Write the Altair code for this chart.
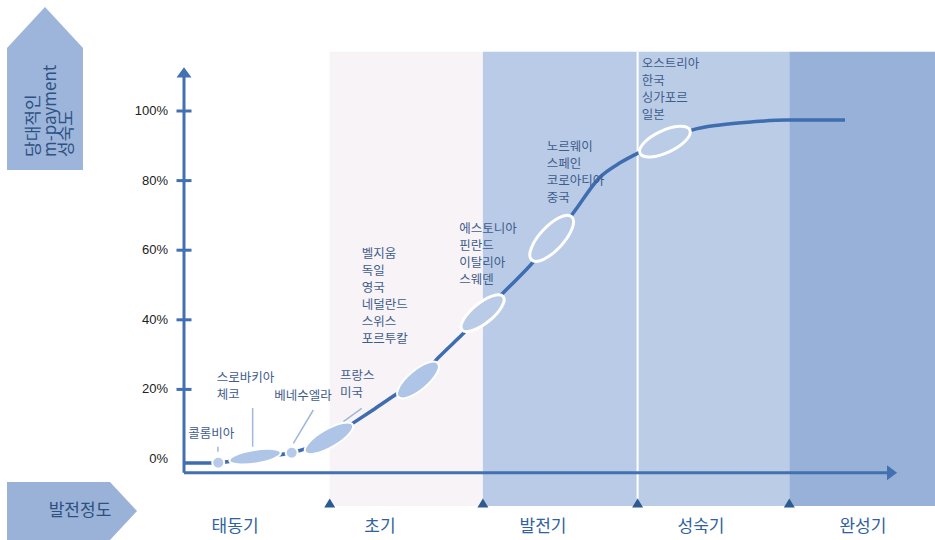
import altair as alt
import pandas as pd

# ---------------- data ----------------
# development axis: 0 = origin, stage borders near 1,2,3,4 ; y = maturity %
curve_x = [0.0, 0.173, 0.226, 0.473, 0.717, 0.972, 1.125, 1.258, 1.405, 1.558, 1.691,
           1.849, 1.991, 2.124, 2.337, 2.448, 2.581, 2.77, 2.903, 3.023, 3.202, 3.38,
           3.569, 3.788, 4.013, 4.401]
curve_y = [-1.15, -1.15, -1.06, 0.57, 1.81, 6.03, 10.3, 14.1, 18.4, 22.7, 29.0,
           35.6, 41.7, 47.7, 57.2, 63.4, 70.1, 81.0, 85.1, 87.9, 91.2, 94.5,
           96.0, 96.9, 97.4, 97.4]

stage_names = ["태동기", "초기", "발전기", "성숙기", "완성기"]
stage_label_x = [0.34, 1.305, 2.39, 3.442, 4.52]
stage_bounds = [0.97, 1.99, 3.02, 4.03]
band_start = [0.97, 1.99, 3.02, 4.03]
band_end = [1.99, 3.02, 4.03, 5.0]
band_colors = ["#f8f3f6", "#b9cbe6", "#bbcce7", "#98b1d8"]

y_ticks = [0, 20, 40, 60, 80, 100]
y_tick_labels = ["0%", "20%", "40%", "60%", "80%", "100%"]

# country groups (ellipses)
ell_x = [0.228, 0.473, 0.717, 0.965, 1.558, 1.988, 2.448, 3.202]
ell_y = [-1.06, 0.66, 1.8, 5.95, 22.7, 41.9, 63.4, 91.2]
ell_len = [12, 52, 12, 55, 52, 53, 59, 55]
ell_ratio = [1.0, 0.26, 1.0, 0.33, 0.38, 0.38, 0.40, 0.40]
ell_angle = [0, 351, 0, 330, 320, 321, 313, 335]
ell_fill = ["#b7cae9", "#afc5e8", "#b7cae9", "#afc5e8", "#afc5e8", "#b9cbe6", "#b9cbe6", "#bbcce7"]
ell_sw = [2, 2, 2, 2, 2, 3, 3, 3]

label_text = ["콜롬비아", "스로바키아\n체코", "베네수엘라", "프랑스\n미국",
              "벨지움\n독일\n영국\n네덜란드\n스위스\n포르투칼",
              "에스토니아\n 핀란드\n이탈리아\n스웨덴",
              "노르웨이\n스페인\n코로아티아\n중국",
              "오스트리아\n한국\n싱가포르\n일본"]
label_x = [0.029, 0.218, 0.601, 1.039, 1.183, 1.833, 2.415, 3.047]
label_y = [8.9, 24.9, 19.9, 25.7, 60.6, 67.8, 91.4, 115.2]

lead_x = [0.226, 0.457, 0.861, 1.183]
lead_y = [3.53, 14.66, 14.08, 14.57]
lead_x2 = [0.226, 0.457, 0.728, 1.061]
lead_y2 = [2.1, 3.53, 4.51, 10.72]

y_title_lines = ["당대적인", "m-payment", "성숙도"]

# ---------------- layout constants ----------------
W, H, LEFT = 751, 540, 184
BAND_TOP, BAND_BOTTOM = 117.0, -13.5
AXIS_Y = -3.94
AXIS_END_X = 4.687
ARROW_X = 4.714
YAXIS_TOP = 110.0
YARROW_Y = 111.1
MARK_Y = -12.64
STAGE_Y = -19.5
YLABEL_X = -0.1065

BLUE = "#4270b0"
DARK = "#2d5b8f"
TXT = "#3f5d8c"
KFONT = "Noto Sans CJK KR"

xs = alt.Scale(domain=[0, 5], range=[0, W], nice=False, zero=False)
ys = alt.Scale(domain=[0, 100], range=[459, 111], nice=False, zero=False)


def X(f):
    return alt.X(f"{f}:Q", scale=xs, axis=None)


def Y(f):
    return alt.Y(f"{f}:Q", scale=ys, axis=None)


def ellipse_path(r):
    return f"M -1 0 A 1 {r} 0 1 1 1 0 A 1 {r} 0 1 1 -1 0 Z"


# ---------------- tables ----------------
bands = pd.DataFrame({"x": band_start, "x2": band_end, "c": band_colors,
                      "y": [BAND_TOP] * 4, "y2": [BAND_BOTTOM] * 4})
curve = pd.DataFrame({"x": curve_x, "y": curve_y})
ells = pd.DataFrame({"x": ell_x, "y": ell_y,
                     "size": [l * l for l in ell_len],
                     "shape": [ellipse_path(r) for r in ell_ratio],
                     "ang": ell_angle, "fill": ell_fill, "sw": ell_sw})
labels = pd.DataFrame({"x": label_x, "y": label_y, "t": label_text})
leads = pd.DataFrame({"x": lead_x, "y": lead_y, "x2": lead_x2, "y2": lead_y2})
stages = pd.DataFrame({"x": stage_label_x, "y": [STAGE_Y] * 5, "t": stage_names})
markers = pd.DataFrame({"x": stage_bounds, "y": [MARK_Y] * 4})
ticks = pd.DataFrame({"y": y_ticks[1:], "x": [-0.05] * 5, "x2": [0.05] * 5})
ylabels = pd.DataFrame({"y": y_ticks, "x": [YLABEL_X] * 6, "t": y_tick_labels})
sep = pd.DataFrame({"x": [3.02], "y": [BAND_TOP], "y2": [-11.4]})
axes_lines = pd.DataFrame({"x": [0.0, 0.0], "x2": [0.0, AXIS_END_X],
                           "y": [AXIS_Y, AXIS_Y], "y2": [YAXIS_TOP, AXIS_Y]})
heads = pd.DataFrame({"x": [0.0, ARROW_X], "y": [YARROW_Y, AXIS_Y], "ang": [0, 90]})

# ---------------- layers ----------------
band_layer = alt.Chart(bands).mark_rect().encode(
    x=X("x"), x2="x2", y=Y("y"), y2="y2", fill=alt.Fill("c:N", scale=None))

sep_layer = alt.Chart(sep).mark_rule(color="white", strokeWidth=2).encode(
    x=X("x"), y=Y("y"), y2="y2")

curve_layer = alt.Chart(curve).mark_line(
    interpolate="monotone", color="#3e6db0", strokeWidth=3.5).encode(
    x=X("x"), y=Y("y"))

lead_layer = alt.Chart(leads).mark_rule(color="#9fb7dc", strokeWidth=1.5).encode(
    x=X("x"), y=Y("y"), x2="x2", y2="y2")

ell_layer = alt.Chart(ells).mark_point(filled=True, stroke="white", opacity=1,
                                       strokeOpacity=1).encode(
    x=X("x"), y=Y("y"),
    shape=alt.Shape("shape:N", scale=None),
    size=alt.Size("size:Q", scale=None),
    angle=alt.Angle("ang:Q", scale=None),
    fill=alt.Fill("fill:N", scale=None),
    strokeWidth=alt.StrokeWidth("sw:Q", scale=None))

axis_layer = alt.Chart(axes_lines).mark_rule(color=BLUE, strokeWidth=3).encode(
    x=X("x"), x2="x2", y=Y("y"), y2="y2")

tick_layer = alt.Chart(ticks).mark_rule(color=BLUE, strokeWidth=3).encode(
    x=X("x"), x2="x2", y=Y("y"))

ylabel_layer = alt.Chart(ylabels).mark_text(
    font="Liberation Sans", fontSize=13, color="#222222", align="right",
    baseline="middle").encode(x=X("x"), y=Y("y"), text="t:N")

head_layer = alt.Chart(heads).mark_point(
    filled=True, fill=BLUE, opacity=1, size=225,
    shape="M -1 0.67 L 0 -0.67 L 1 0.67 Z").encode(
    x=X("x"), y=Y("y"), angle=alt.Angle("ang:Q", scale=None))

marker_layer = alt.Chart(markers).mark_point(
    filled=True, fill=DARK, opacity=1, size=121,
    shape="M -1 0.8 L 0 -0.8 L 1 0.8 Z").encode(x=X("x"), y=Y("y"))

stage_layer = alt.Chart(stages).mark_text(
    font=KFONT, fontSize=17, color="#2f62a0", align="center", baseline="middle").encode(
    x=X("x"), y=Y("y"), text="t:N")

label_layer = alt.Chart(labels).mark_text(
    font=KFONT, fontSize=12.5, color=TXT, align="left", baseline="top",
    lineBreak="\n", lineHeight=17).encode(x=X("x"), y=Y("y"), text="t:N")

# left-side arrow decorations (drawn in the left padding)
deco = pd.DataFrame({"k": [0]})
up_arrow = alt.Chart(deco).mark_point(
    filled=True, fill="#9db5da", opacity=1, size=26569,
    shape="M 0 -1 L 0.466 -0.497 L 0.466 1 L -0.466 1 L -0.466 -0.497 Z").encode(
    x=alt.value(45 - LEFT), y=alt.value(88.5))
right_arrow = alt.Chart(deco).mark_point(
    filled=True, fill="#9ab2d8", opacity=1, size=3364,
    shape="M -2.241 -1 L 1.31 -1 L 2.241 0 L 1.31 1 L -2.241 1 Z").encode(
    x=alt.value(72 - LEFT), y=alt.value(511))

title_cols = []
for line, cx in zip(y_title_lines, [34, 50.5, 67]):
    title_cols.append(alt.Chart(deco).mark_text(
        text=line, angle=270, font=KFONT, fontSize=17, color="#2e5183",
        align="left", baseline="middle").encode(
        x=alt.value(cx - LEFT), y=alt.value(157)))

right_text = alt.Chart(deco).mark_text(
    text="발전정도", font=KFONT, fontSize=17, color="#2e4f80",
    align="center", baseline="middle").encode(
    x=alt.value(80 - LEFT), y=alt.value(511))

chart = alt.layer(
    band_layer, sep_layer, curve_layer, lead_layer, ell_layer, axis_layer,
    tick_layer, ylabel_layer, head_layer, marker_layer, stage_layer, label_layer,
    up_arrow, right_arrow, *title_cols, right_text
).properties(
    width=W, height=H,
    autosize=alt.AutoSizeParams(type="none"),
    padding={"left": LEFT, "top": 0, "right": 0, "bottom": 0},
    background="white",
).configure_view(stroke=None)

chart.save("out.html", embed_options={"renderer": "svg", "actions": False})
